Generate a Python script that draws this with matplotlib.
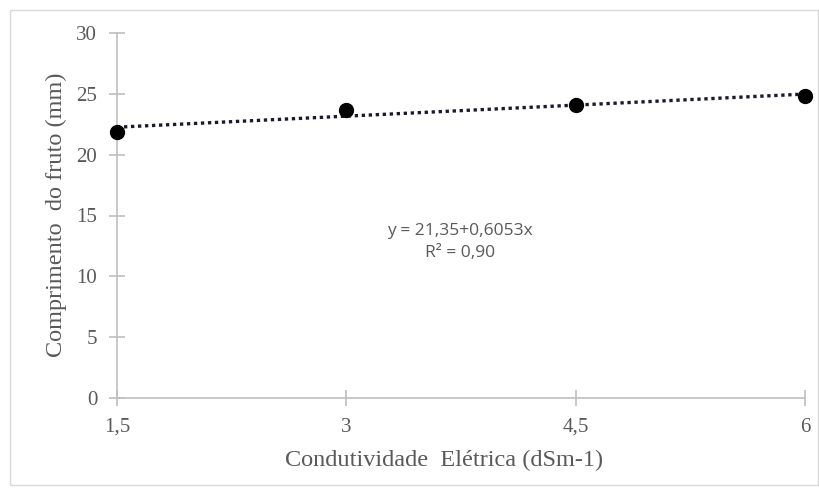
import matplotlib
matplotlib.use("Agg")
import matplotlib.pyplot as plt
import numpy as np
from matplotlib.patches import Rectangle

x_vals = [1.5, 3.0, 4.5, 6.0]
y_vals = [21.9, 23.7, 24.1, 24.8]
x_ticks = [1.5, 3.0, 4.5, 6.0]
x_ticklabels = ["1,5", "3", "4,5", "6"]
y_ticks = [0, 5, 10, 15, 20, 25, 30]
intercept = 21.35
slope = 0.6053

fig = plt.figure(figsize=(8.19, 4.95), dpi=100)
ax = fig.add_axes([117/819, 1-398/495, (805-117)/819, (398-33)/495])

serif = "Liberation Serif"
txtc = "#595959"
axc = "#bfbfbf"

xl = np.array([x_vals[0], x_vals[-1]])
ax.plot(xl, intercept + slope*xl, linestyle=(0, (1, 1.1)), color="#1a1a2e", lw=2.4, zorder=2)
ax.scatter(x_vals, y_vals, s=100, color="black", zorder=3, clip_on=False)

ax.set_xlim(1.5, 6)
ax.set_ylim(0, 30)
ax.set_xticks(x_ticks)
ax.set_xticklabels(x_ticklabels)
ax.set_yticks(y_ticks)
for s in ["top", "right"]:
    ax.spines[s].set_visible(False)
for s in ["left", "bottom"]:
    ax.spines[s].set_color(axc)
    ax.spines[s].set_linewidth(1.2)
ax.tick_params(direction="inout", length=11.5, width=1.2, color=axc, labelcolor=txtc,
               labelsize=15, pad=8.5)
for lab in ax.get_xticklabels() + ax.get_yticklabels():
    lab.set_fontfamily(serif)
ax.set_xlabel("Condutividade  Elétrica (dSm-1)", fontfamily=serif, fontsize=17.5, color=txtc)
ax.set_ylabel("Comprimento  do fruto (mm)", fontfamily=serif, fontsize=17.5, color=txtc)
ax.xaxis.set_label_coords(0.475, -0.1425)
ax.yaxis.set_label_coords(-0.0727, 0.501)
ax.patch.set_alpha(0)

fig.text(460/819, 1-231/495, "y = 21,35+0,6053x", ha="center", va="center",
         fontfamily="Open Sans", fontsize=12.5, color=txtc)
fig.text(460/819, 1-253/495, "R² = 0,90", ha="center", va="center",
         fontfamily="Open Sans", fontsize=12.5, color=txtc)

fig.patches.append(Rectangle((10/819, 1-485/495), 808/819, 475/495, transform=fig.transFigure,
                             fill=False, edgecolor="#d9d9d9", lw=1))

fig.savefig("out.png", dpi=100)
